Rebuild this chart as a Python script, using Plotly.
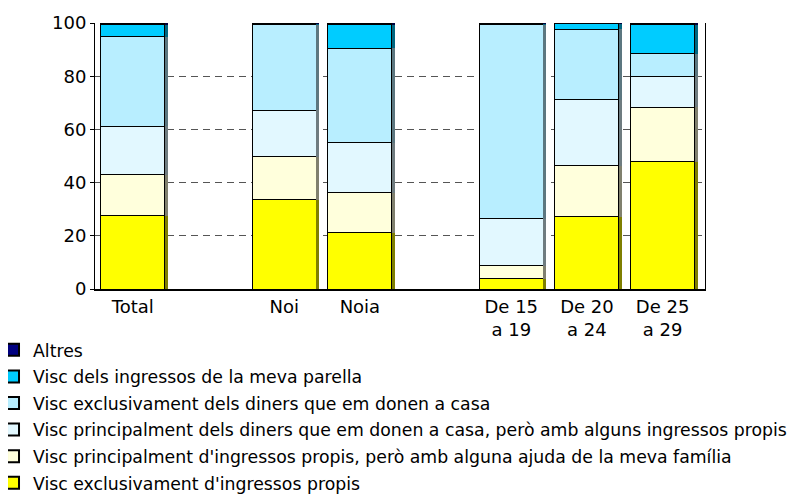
import plotly.graph_objects as go

categories = ["Total", "", "Noi", "Noia", "", "De 15<br>a 19", "De 20<br>a 24", "De 25<br>a 29"]

series_names = [
    "Visc exclusivament d'ingressos propis",
    "Visc principalment d'ingressos propis, però amb alguna ajuda de la meva família",
    "Visc principalment dels diners que em donen a casa, però amb alguns ingressos propis",
    "Visc exclusivament dels diners que em donen a casa",
    "Visc dels ingressos de la meva parella",
    "Altres",
]

# one value per category (None for the empty gap columns)
propis = [27.5, None, 33.5, 21.2, None, 3.8, 27.2, 47.9]
propis_ajuda = [15.5, None, 16.2, 14.9, None, 5.0, 19.2, 20.5]
casa_ingressos = [18.1, None, 17.5, 18.9, None, 17.6, 24.8, 11.5]
casa = [33.8, None, 32.2, 35.6, None, 73.0, 26.5, 8.6]
parella = [4.6, None, 0.4, 8.8, None, 0.3, 2.0, 10.9]
altres = [0.5, None, 0.2, 0.6, None, 0.3, 0.3, 0.6]

colors = ["#FFFF00", "#FFFFDC", "#E2F8FF", "#B8EEFF", "#00CCFF", "#000080"]
shadow_colors = ["#7F7F00", "#80806E", "#6F7C80", "#5C7780", "#006680", "#000040"]
series = [propis, propis_ajuda, casa_ingressos, casa, parella, altres]

xpos = list(range(len(categories)))
bar_w = 0.845

fig = go.Figure()
for i, (name, vals, col) in enumerate(zip(series_names, series, colors)):
    fig.add_trace(go.Bar(
        x=xpos, y=vals, name=name, width=bar_w,
        legendgroup=f"g{i}", legendrank=100 - i,
        marker=dict(color=col, line=dict(color="black", width=1)),
    ))

# thin dark side strip for the 3D look (stacked on its own overlay axis)
for vals, col in zip(series, shadow_colors):
    fig.add_trace(go.Bar(
        x=xpos, y=vals, xaxis="x2", width=0.04, offset=bar_w / 2,
        marker=dict(color=col, line=dict(width=0)),
        showlegend=False, hoverinfo="skip",
    ))

x_range = [-0.5, 7.56]

# page body has an 8px margin, so the figure is 8px smaller than the window
fig.update_layout(
    barmode="stack",
    width=788, height=486,
    margin=dict(l=87, r=91, t=15, b=205, autoexpand=False),
    paper_bgcolor="white", plot_bgcolor="white",
    font=dict(family="DejaVu Sans", size=18, color="black"),
    showlegend=True,
    legend=dict(
        x=-0.1672, xanchor="left", y=-0.162, yanchor="top",
        traceorder="grouped", font=dict(size=17.3),
        tracegroupgap=1.1, itemsizing="constant",
        bgcolor="rgba(0,0,0,0)",
    ),
    xaxis=dict(
        range=x_range,
        tickvals=[i for i, c in enumerate(categories) if c],
        ticktext=[c for c in categories if c],
        showgrid=False, zeroline=False,
        showline=True, linecolor="black", linewidth=2,
        ticks="",
    ),
    xaxis2=dict(
        range=x_range, overlaying="x", visible=False,
    ),
    yaxis=dict(
        range=[0, 100], dtick=20,
        showgrid=True, gridcolor="#555555", griddash="7px,5px", gridwidth=1,
        zeroline=False, showline=True, linecolor="black", linewidth=1,
        mirror=True, ticks="outside", ticklen=4, tickcolor="black",
    ),
)

fig.write_html("out.html")
